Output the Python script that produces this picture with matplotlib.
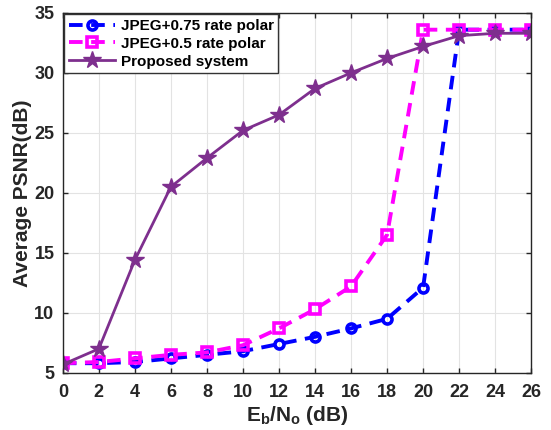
import matplotlib
matplotlib.use("Agg")
import matplotlib.pyplot as plt

plt.rcParams["font.family"] = "Liberation Sans"
plt.rcParams["font.weight"] = "bold"
plt.rcParams["mathtext.fontset"] = "custom"
plt.rcParams["mathtext.rm"] = "Liberation Sans:bold"
plt.rcParams["mathtext.it"] = "Liberation Sans:bold"
plt.rcParams["mathtext.bf"] = "Liberation Sans:bold"

ebno = [0, 2, 4, 6, 8, 10, 12, 14, 16, 18, 20, 22, 24, 26]
psnr_075 = [5.8, 5.8, 5.9, 6.2, 6.5, 6.8, 7.4, 8.0, 8.7, 9.5, 12.1, 33.6, 33.6, 33.6]
psnr_05 = [5.8, 5.9, 6.2, 6.5, 6.7, 7.3, 8.7, 10.3, 12.2, 16.5, 33.6, 33.6, 33.6, 33.6]
psnr_prop = [5.7, 7.0, 14.4, 20.5, 22.9, 25.2, 26.5, 28.7, 30.0, 31.2, 32.2, 33.1, 33.3, 33.3]

txt = "#262626"

fig = plt.figure(figsize=(5.51, 4.30), dpi=100)
ax = fig.add_axes([0.114, 0.133, 0.850, 0.837])

ax.plot(ebno, psnr_075, color="blue", ls=(0, (3.5, 2.2)), lw=2.8, marker="o",
        ms=6.5, mfc="none", mew=2.6, label="JPEG+0.75 rate polar")
ax.plot(ebno, psnr_05, color="magenta", ls=(0, (3.5, 2.2)), lw=2.8, marker="s",
        ms=6.5, mfc="none", mew=2.6, label="JPEG+0.5 rate polar")
ax.plot(ebno, psnr_prop, color="#7E2F8E", ls="-", lw=2, marker="*",
        ms=13, label="Proposed system")

ax.set_xlim(0, 26)
ax.set_ylim(5, 35)
ax.set_xticks(range(0, 27, 2))
ax.set_yticks(range(5, 36, 5))
ax.tick_params(direction="in", top=True, right=True, labelsize=13, width=1,
               colors=txt, labelcolor=txt)
ax.tick_params(axis="x", pad=8)
ax.tick_params(axis="y", pad=6)
ax.grid(True, color="#e3e3e3", lw=0.8)
for s in ax.spines.values():
    s.set_linewidth(1)
    s.set_color(txt)

ax.set_xlabel(r"$\mathrm{E_b/N_o}$ (dB)", fontsize=15, fontweight="bold", color=txt,
              labelpad=2)
ax.set_ylabel("Average PSNR(dB)", fontsize=15, fontweight="bold", color=txt,
              labelpad=2)

leg = ax.legend(loc="upper left", fontsize=11, handlelength=3, borderaxespad=0.1,
                fancybox=False, framealpha=1, edgecolor="#333333",
                borderpad=0.3, labelspacing=0.25, handletextpad=0.4)
for t in leg.get_texts():
    t.set_color("black")

fig.savefig("out.png", dpi=100)
